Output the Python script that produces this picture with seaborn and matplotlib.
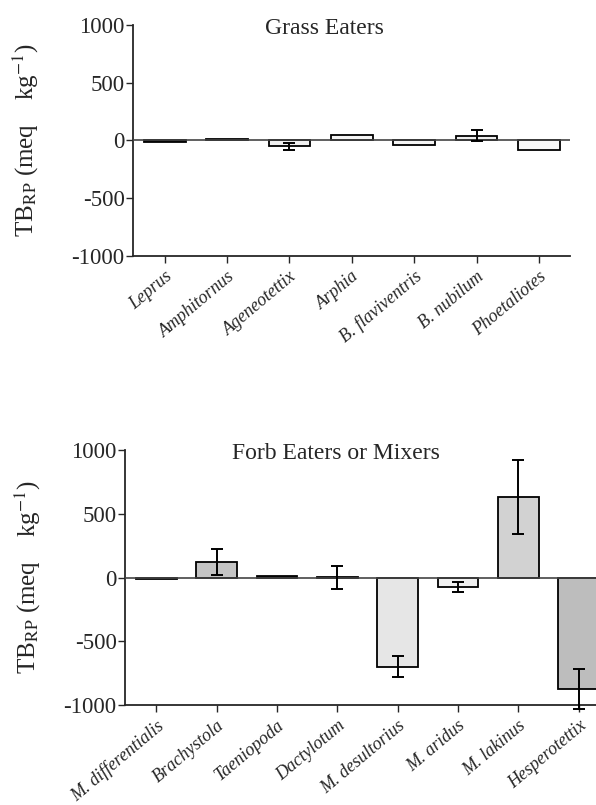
import numpy as np
import matplotlib
matplotlib.use("Agg")
import matplotlib.pyplot as plt
import seaborn as sns

# Grass eaters panel
grass_names = ["Leprus", "Amphitornus", "Ageneotettix", "Arphia",
               "B. flaviventris", "B. nubilum", "Phoetaliotes"]
grass_vals = [-14, 12, -52, 49, -38, 43, -81]
grass_err = [0, 0, 32, 0, 0, 44, 0]
grass_colors = ["#333333", "#222222", "#f0f0f0", "#f4f4f4",
                "#f4f4f4", "#eeeeee", "#f6f6f6"]

# Forb eaters / mixers panel
forb_names = ["M. differentialis", "Brachystola", "Taeniopoda", "Dactylotum",
              "M. desultorius", "M. aridus", "M. lakinus", "Hesperotettix"]
forb_vals = [-10, 124, 8, 2, -698, -76, 635, -874]
forb_err = [0, 102, 0, 89, 80, 38, 290, 160]
forb_colors = ["#333333", "#c4c4c4", "#333333", "#ffffff",
               "#e6e6e6", "#f0f0f0", "#d2d2d2", "#bdbdbd"]

sns.set_style("ticks")
plt.rcParams['font.family'] = ['Liberation Serif', 'DejaVu Serif']
plt.rcParams['mathtext.fontset'] = 'stix'

fig = plt.figure(figsize=(5.96, 8.05), dpi=100)
ax1 = fig.add_axes([0.2232, 0.682, 0.7332, 0.2870])
ax2 = fig.add_axes([0.2097, 0.1242, 0.8138, 0.3168])

ylabel = r"TB$_{\mathrm{RP}}$ (meq    kg$^{-1}$)"


def draw_panel(ax, names, vals, errs, colors, title, xlim, title_x, label_x):
    sns.barplot(x=names, y=vals, hue=names, palette=colors, legend=False,
                width=0.67, edgecolor="black", linewidth=1.3, ax=ax)
    x = np.arange(len(names))
    for xi, v, e in zip(x, vals, errs):
        if e > 0:
            ax.errorbar(xi, v, yerr=e, fmt="none", ecolor="black",
                        elinewidth=1.4, capsize=4, capthick=1.4,
                        clip_on=False, zorder=4)
    ax.axhline(0, color="#444444", lw=1.2, zorder=3)
    ax.set_ylim(-1000, 1000)
    ax.set_xlim(*xlim)
    ax.set_yticks([-1000, -500, 0, 500, 1000])
    ax.set_yticklabels(["-1000", "-500", "0", "500", "1000"], fontsize=16.5)
    ax.set_xticks(x)
    ax.set_xticklabels(names, rotation=40, ha="right", rotation_mode="anchor",
                       fontsize=13, style="italic")
    ax.tick_params(axis="both", direction="out", length=5, width=1.0)
    ax.tick_params(axis="y", pad=1)
    ax.set_ylabel(ylabel, fontsize=18)
    ax.yaxis.set_label_coords(label_x, 0.5)
    ax.set_xlabel("")
    ax.text(title_x, 0.985, title, transform=ax.transAxes, ha="center",
            va="center", fontsize=17)
    for s in ["top", "right"]:
        ax.spines[s].set_visible(False)
    ax.spines["left"].set_linewidth(1.3)
    ax.spines["bottom"].set_linewidth(1.3)


draw_panel(ax1, grass_names, grass_vals, grass_err, grass_colors,
           "Grass Eaters", (-0.51, 6.5), 0.437, -0.21)
draw_panel(ax2, forb_names, forb_vals, forb_err, forb_colors,
           "Forb Eaters or Mixers", (-0.52, 7.52), 0.435, -0.17)

fig.savefig("out.png", dpi=100)
